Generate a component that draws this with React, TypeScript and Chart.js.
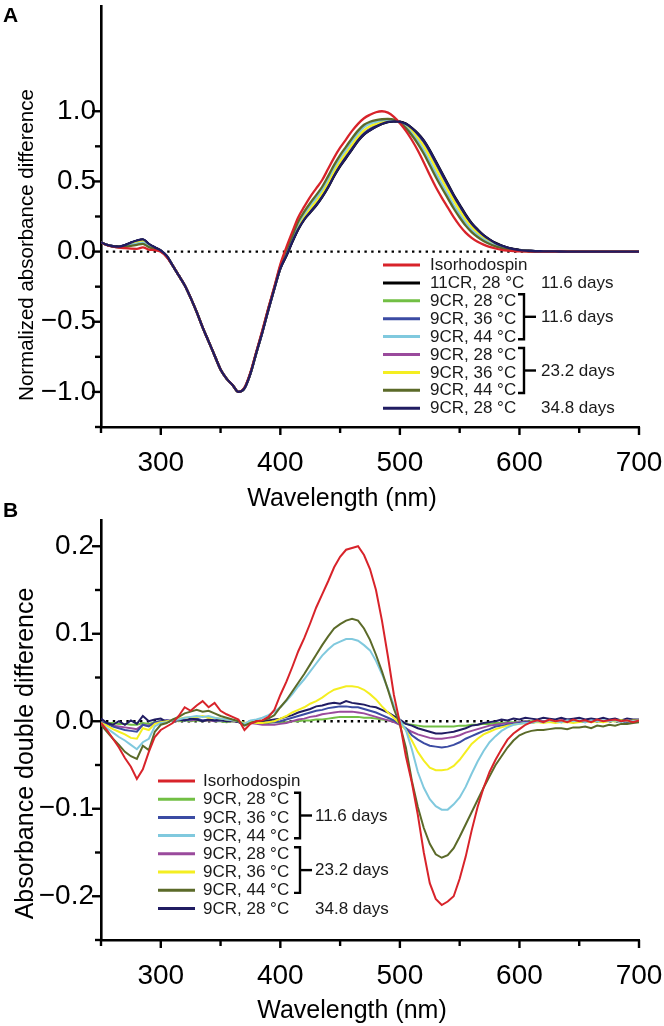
import React, { useEffect, useRef } from 'react';
import { Chart, registerables } from 'chart.js';

Chart.register(...registerables);

const FONT = '"Liberation Sans", Arial, Helvetica, sans-serif';

// ---------------- Panel A data ----------------
const wavelengthA = [
  250, 255, 260, 265, 270, 275, 280, 285, 290, 295,
  300, 305, 310, 315, 320, 325, 330, 335, 340, 345,
  350, 355, 360, 365, 370, 375, 380, 385, 390, 395,
  400, 405, 410, 415, 420, 425, 430, 435, 440, 445,
  450, 455, 460, 465, 470, 475, 480, 485, 490, 495,
  500, 505, 510, 515, 520, 525, 530, 535, 540, 545,
  550, 555, 560, 565, 570, 575, 580, 585, 590, 595,
  600, 610, 620, 630, 640, 650, 660, 670, 680, 690, 700,
];

const isoA = [
  0.064, 0.046, 0.035, 0.028, 0.024, 0.021, 0.020, 0.030, 0.014, 0.010,
  -0.002, -0.04, -0.10, -0.17, -0.24, -0.33, -0.43, -0.54, -0.64, -0.74,
  -0.84, -0.905, -0.95, -1.0, -0.97, -0.86, -0.71, -0.56, -0.40, -0.25,
  -0.09, 0.03, 0.14, 0.245, 0.32, 0.39, 0.45, 0.51, 0.59, 0.67,
  0.74, 0.80, 0.86, 0.91, 0.95, 0.975, 0.993, 1.0, 0.99, 0.96,
  0.915, 0.86, 0.795, 0.72, 0.635, 0.545, 0.46, 0.385, 0.315, 0.245,
  0.185, 0.135, 0.098, 0.07, 0.05, 0.034, 0.022, 0.013, 0.007, 0.003,
  0.001, 0, 0, 0, 0, 0, 0, 0, 0, 0, 0,
];
const cr11_28A = [
  0.066, 0.048, 0.038, 0.035, 0.045, 0.062, 0.077, 0.085, 0.053, 0.029,
  0.007, -0.032, -0.10, -0.17, -0.24, -0.33, -0.43, -0.54, -0.64, -0.74,
  -0.84, -0.905, -0.95, -1.0, -0.975, -0.87, -0.72, -0.575, -0.415, -0.265,
  -0.121, -0.032, 0.068, 0.158, 0.228, 0.278, 0.328, 0.388, 0.457, 0.537,
  0.607, 0.667, 0.727, 0.788, 0.833, 0.864, 0.889, 0.909, 0.923, 0.928,
  0.926, 0.912, 0.882, 0.843, 0.793, 0.724, 0.645, 0.565, 0.485, 0.405,
  0.335, 0.265, 0.204, 0.158, 0.117, 0.087, 0.062, 0.043, 0.029, 0.019,
  0.012, 0.004, 0.002, 0.001, 0, 0, 0, 0, 0, 0, 0,
];
const cr9_28_d1A = [
  0.066, 0.048, 0.038, 0.035, 0.045, 0.062, 0.077, 0.085, 0.053, 0.029,
  0.007, -0.035, -0.10, -0.17, -0.24, -0.33, -0.43, -0.54, -0.64, -0.74,
  -0.84, -0.905, -0.95, -1.0, -0.973, -0.868, -0.718, -0.57, -0.41, -0.26,
  -0.119, -0.028, 0.071, 0.163, 0.233, 0.283, 0.334, 0.394, 0.464, 0.544,
  0.614, 0.674, 0.734, 0.794, 0.838, 0.868, 0.893, 0.913, 0.926, 0.929,
  0.925, 0.909, 0.877, 0.836, 0.785, 0.715, 0.635, 0.555, 0.475, 0.395,
  0.326, 0.257, 0.197, 0.153, 0.113, 0.083, 0.059, 0.041, 0.027, 0.017,
  0.011, 0.004, 0.002, 0.001, 0, 0, 0, 0, 0, 0, 0,
];
const cr9_36_d1A = [
  0.066, 0.048, 0.038, 0.035, 0.045, 0.062, 0.077, 0.085, 0.053, 0.029,
  0.007, -0.035, -0.10, -0.17, -0.24, -0.33, -0.43, -0.54, -0.64, -0.74,
  -0.84, -0.905, -0.95, -1.0, -0.973, -0.868, -0.718, -0.57, -0.41, -0.26,
  -0.118, -0.024, 0.075, 0.167, 0.237, 0.289, 0.34, 0.40, 0.47, 0.55,
  0.62, 0.68, 0.74, 0.80, 0.844, 0.874, 0.898, 0.917, 0.929, 0.93,
  0.924, 0.906, 0.873, 0.83, 0.778, 0.706, 0.626, 0.546, 0.467, 0.388,
  0.318, 0.25, 0.192, 0.148, 0.11, 0.081, 0.057, 0.04, 0.026, 0.017,
  0.010, 0.004, 0.002, 0.001, 0, 0, 0, 0, 0, 0, 0,
];
const cr9_44_d1A = [
  0.065, 0.047, 0.036, 0.032, 0.036, 0.047, 0.057, 0.064, 0.038, 0.022,
  0.004, -0.035, -0.10, -0.17, -0.24, -0.33, -0.43, -0.54, -0.64, -0.74,
  -0.84, -0.905, -0.95, -1.0, -0.973, -0.866, -0.716, -0.567, -0.407, -0.257,
  -0.107, 0.002, 0.097, 0.201, 0.271, 0.330, 0.384, 0.444, 0.519, 0.599,
  0.669, 0.729, 0.789, 0.844, 0.887, 0.912, 0.925, 0.935, 0.94, 0.938,
  0.92, 0.888, 0.842, 0.786, 0.72, 0.641, 0.559, 0.481, 0.406, 0.330,
  0.265, 0.204, 0.154, 0.117, 0.086, 0.062, 0.043, 0.029, 0.019, 0.011,
  0.0065, 0.003, 0.001, 0, 0, 0, 0, 0, 0, 0, 0,
];
const cr9_28_d2A = [
  0.066, 0.048, 0.038, 0.035, 0.045, 0.062, 0.077, 0.085, 0.053, 0.029,
  0.007, -0.035, -0.10, -0.17, -0.24, -0.33, -0.43, -0.54, -0.64, -0.74,
  -0.84, -0.905, -0.95, -1.0, -0.973, -0.868, -0.718, -0.57, -0.41, -0.26,
  -0.119, -0.025, 0.073, 0.165, 0.235, 0.286, 0.336, 0.396, 0.467, 0.547,
  0.617, 0.677, 0.737, 0.796, 0.841, 0.871, 0.895, 0.915, 0.927, 0.929,
  0.924, 0.908, 0.876, 0.834, 0.782, 0.711, 0.631, 0.551, 0.472, 0.392,
  0.323, 0.254, 0.195, 0.151, 0.112, 0.082, 0.058, 0.041, 0.027, 0.017,
  0.011, 0.004, 0.002, 0.001, 0, 0, 0, 0, 0, 0, 0,
];
const cr9_36_d2A = [
  0.065, 0.047, 0.037, 0.033, 0.040, 0.054, 0.066, 0.074, 0.045, 0.025,
  0.005, -0.035, -0.10, -0.17, -0.24, -0.33, -0.43, -0.54, -0.64, -0.74,
  -0.84, -0.905, -0.95, -1.0, -0.973, -0.867, -0.717, -0.568, -0.408, -0.258,
  -0.112, -0.012, 0.085, 0.183, 0.253, 0.308, 0.36, 0.42, 0.493, 0.573,
  0.643, 0.703, 0.763, 0.82, 0.864, 0.893, 0.91, 0.925, 0.932, 0.934,
  0.922, 0.897, 0.859, 0.81, 0.751, 0.676, 0.595, 0.516, 0.439, 0.364,
  0.294, 0.229, 0.175, 0.134, 0.099, 0.073, 0.05, 0.035, 0.023, 0.014,
  0.0085, 0.003, 0.0015, 0, 0, 0, 0, 0, 0, 0, 0,
];
const cr9_44_d2A = [
  0.065, 0.047, 0.036, 0.031, 0.033, 0.040, 0.048, 0.055, 0.032, 0.020,
  0.003, -0.035, -0.10, -0.17, -0.24, -0.33, -0.43, -0.54, -0.64, -0.74,
  -0.84, -0.905, -0.95, -1.0, -0.972, -0.865, -0.715, -0.565, -0.405, -0.255,
  -0.102, 0.012, 0.11, 0.214, 0.284, 0.346, 0.402, 0.462, 0.538, 0.618,
  0.688, 0.748, 0.808, 0.862, 0.904, 0.925, 0.937, 0.943, 0.945, 0.94,
  0.919, 0.88, 0.829, 0.768, 0.697, 0.615, 0.532, 0.455, 0.381, 0.307,
  0.243, 0.185, 0.139, 0.104, 0.076, 0.054, 0.037, 0.025, 0.015, 0.009,
  0.005, 0.002, 0.001, 0, 0, 0, 0, 0, 0, 0, 0,
];
const cr9_28_d3A = [
  0.066, 0.048, 0.038, 0.036, 0.046, 0.064, 0.079, 0.087, 0.055, 0.030,
  0.008, -0.03, -0.10, -0.17, -0.24, -0.33, -0.43, -0.54, -0.64, -0.74,
  -0.84, -0.905, -0.95, -1.0, -0.975, -0.87, -0.72, -0.575, -0.415, -0.265,
  -0.12, -0.03, 0.07, 0.16, 0.23, 0.28, 0.33, 0.39, 0.46, 0.54,
  0.61, 0.67, 0.73, 0.79, 0.835, 0.865, 0.89, 0.91, 0.924, 0.928,
  0.925, 0.91, 0.88, 0.84, 0.79, 0.72, 0.64, 0.56, 0.48, 0.40,
  0.33, 0.26, 0.20, 0.155, 0.115, 0.085, 0.06, 0.042, 0.028, 0.018,
  0.011, 0.004, 0.002, 0.001, 0, 0, 0, 0, 0, 0, 0,
];

// ---------------- Panel B data ----------------
const wavelengthB = [
  250, 255, 260, 265, 270, 275, 280, 285, 290, 295,
  300, 305, 310, 315, 320, 325, 330, 335, 340, 345,
  350, 355, 360, 365, 370, 375, 380, 385, 390, 395,
  400, 405, 410, 415, 420, 425, 430, 435, 440, 445,
  450, 455, 460, 465, 470, 475, 480, 485, 490, 495,
  500, 505, 510, 515, 520, 525, 530, 535, 540, 545,
  550, 555, 560, 565, 570, 575, 580, 585, 590, 595,
  600, 605, 610, 615, 620, 625, 630, 635, 640, 645,
  650, 655, 660, 665, 670, 675, 680, 685, 690, 695, 700,
];

const isoB = [
  -0.002, -0.010, -0.020, -0.030, -0.042, -0.052, -0.066, -0.055, -0.035, -0.018,
  -0.010, -0.006, -0.002, 0.006, 0.016, 0.012, 0.018, 0.023, 0.016, 0.021,
  0.012, 0.008, 0.005, 0.002, -0.010, -0.003, 0.000, 0.001, 0.005, 0.013,
  0.030, 0.045, 0.062, 0.080, 0.095, 0.112, 0.130, 0.145, 0.160, 0.176,
  0.188, 0.196, 0.198, 0.200, 0.190, 0.174, 0.150, 0.115, 0.074, 0.030,
  -0.002, -0.040, -0.070, -0.107, -0.150, -0.185, -0.203, -0.210, -0.206, -0.200,
  -0.180, -0.155, -0.125, -0.098, -0.076, -0.058, -0.044, -0.032, -0.021, -0.014,
  -0.009, -0.004, -0.001, 0.001, -0.001, 0.002, 0.000, 0.001, -0.001, 0.002,
  0.000, 0.001, -0.001, 0.002, 0.000, 0.001, 0.002, 0.000, 0.001, -0.001, 0.001,
];
const cr9_28_d1B = [
  -0.001, -0.002, -0.002, -0.003, -0.003, -0.004, -0.004, -0.002, -0.003, -0.001,
  0.000, 0.000, 0.001, 0.000, 0.001, 0.000, 0.001, 0.000, 0.001, 0.000,
  0.000, -0.001, 0.000, -0.001, -0.002, -0.002, -0.002, -0.002, -0.002, -0.001,
  -0.001, -0.001, 0.000, 0.000, 0.001, 0.001, 0.002, 0.002, 0.003, 0.004,
  0.005, 0.005, 0.005, 0.005, 0.004, 0.004, 0.003, 0.002, 0.001, 0.000,
  -0.001, -0.003, -0.004, -0.005, -0.006, -0.006, -0.006, -0.006, -0.006, -0.006,
  -0.005, -0.005, -0.004, -0.004, -0.003, -0.003, -0.002, -0.002, -0.001, -0.001,
  -0.001, 0.000, 0.000, 0.001, 0.000, 0.000, 0.001, 0.000, 0.000, 0.001,
  0.000, 0.000, 0.001, 0.000, 0.000, 0.001, 0.000, 0.000, 0.001, 0.000, 0.000,
];
const cr9_36_d1B = [
  -0.001, -0.003, -0.006, -0.008, -0.010, -0.011, -0.012, -0.004, -0.006, -0.001,
  0.000, 0.001, 0.000, 0.002, 0.001, 0.002, 0.003, 0.001, 0.002, 0.001,
  0.001, 0.000, 0.001, -0.001, -0.003, -0.001, -0.002, -0.002, -0.001, -0.001,
  0.000, 0.002, 0.004, 0.006, 0.008, 0.010, 0.012, 0.013, 0.015, 0.016,
  0.017, 0.017, 0.016, 0.016, 0.014, 0.012, 0.010, 0.007, 0.004, 0.001,
  -0.003, -0.008, -0.016, -0.021, -0.025, -0.028, -0.029, -0.030, -0.029, -0.027,
  -0.024, -0.020, -0.017, -0.014, -0.011, -0.009, -0.006, -0.005, -0.004, -0.003,
  -0.002, -0.001, -0.002, 0.000, -0.001, 0.000, 0.001, -0.001, 0.000, 0.001,
  0.000, -0.001, 0.001, 0.000, 0.000, 0.001, 0.000, 0.001, -0.001, 0.001, 0.000,
];
const cr9_44_d1B = [
  -0.003, -0.008, -0.013, -0.018, -0.022, -0.027, -0.032, -0.024, -0.020, -0.006,
  -0.002, -0.001, 0.001, 0.002, 0.004, 0.005, 0.006, 0.005, 0.006, 0.004,
  0.003, 0.002, 0.001, 0.000, -0.003, 0.001, 0.002, 0.004, 0.007, 0.011,
  0.016, 0.023, 0.031, 0.040, 0.048, 0.057, 0.066, 0.075, 0.082, 0.088,
  0.091, 0.094, 0.094, 0.092, 0.087, 0.081, 0.069, 0.054, 0.037, 0.018,
  0.001, -0.010, -0.032, -0.058, -0.076, -0.089, -0.097, -0.101, -0.101, -0.095,
  -0.087, -0.075, -0.060, -0.046, -0.034, -0.024, -0.017, -0.011, -0.007, -0.004,
  -0.003, -0.002, -0.002, 0.000, -0.001, 0.001, 0.000, -0.001, 0.001, 0.000,
  0.001, -0.001, 0.001, 0.000, 0.001, 0.000, 0.001, -0.001, 0.001, 0.000, 0.001,
];
const cr9_28_d2B = [
  -0.001, -0.003, -0.005, -0.006, -0.007, -0.008, -0.009, -0.004, -0.005, -0.002,
  0.000, 0.001, 0.000, 0.001, 0.002, 0.001, 0.002, 0.001, 0.001, 0.000,
  0.001, 0.000, 0.000, -0.001, -0.002, -0.002, -0.003, -0.004, -0.004, -0.004,
  -0.003, -0.002, 0.000, 0.002, 0.003, 0.005, 0.006, 0.008, 0.009, 0.010,
  0.011, 0.011, 0.011, 0.010, 0.009, 0.007, 0.005, 0.003, 0.001, -0.001,
  -0.004, -0.008, -0.012, -0.015, -0.017, -0.019, -0.020, -0.020, -0.019, -0.018,
  -0.016, -0.013, -0.011, -0.009, -0.007, -0.005, -0.004, -0.003, -0.002, -0.002,
  -0.001, 0.000, -0.001, 0.001, 0.000, 0.001, 0.000, 0.001, 0.002, 0.001,
  0.000, 0.001, 0.002, 0.001, 0.000, 0.001, 0.002, 0.001, 0.000, 0.001, 0.001,
];
const cr9_36_d2B = [
  -0.002, -0.005, -0.009, -0.012, -0.015, -0.019, -0.020, -0.008, -0.010, -0.003,
  -0.001, 0.000, 0.001, 0.003, 0.004, 0.005, 0.005, 0.006, 0.004, 0.004,
  0.003, 0.002, 0.001, 0.000, -0.002, -0.001, -0.002, -0.002, -0.001, 0.000,
  0.003, 0.006, 0.010, 0.013, 0.016, 0.020, 0.023, 0.027, 0.032, 0.036,
  0.038, 0.040, 0.040, 0.039, 0.036, 0.031, 0.025, 0.017, 0.010, 0.004,
  -0.003, -0.010, -0.022, -0.035, -0.045, -0.053, -0.056, -0.056, -0.055, -0.051,
  -0.044, -0.035, -0.026, -0.020, -0.015, -0.012, -0.009, -0.007, -0.005, -0.004,
  -0.003, -0.002, -0.002, -0.001, -0.002, -0.001, -0.002, -0.001, -0.001, -0.002,
  -0.001, 0.000, -0.001, 0.000, -0.001, 0.000, 0.000, 0.001, 0.000, 0.001, 0.001,
];
const cr9_44_d2B = [
  -0.004, -0.012, -0.020, -0.027, -0.035, -0.040, -0.043, -0.028, -0.033, -0.012,
  -0.004, -0.002, 0.002, 0.005, 0.009, 0.011, 0.013, 0.011, 0.012, 0.009,
  0.006, 0.004, 0.002, 0.000, -0.005, -0.002, 0.000, 0.001, 0.003, 0.007,
  0.016, 0.024, 0.034, 0.044, 0.054, 0.065, 0.076, 0.087, 0.097, 0.106,
  0.111, 0.115, 0.117, 0.115, 0.106, 0.093, 0.076, 0.057, 0.036, 0.014,
  -0.004, -0.030, -0.068, -0.098, -0.122, -0.140, -0.152, -0.156, -0.153, -0.145,
  -0.132, -0.118, -0.104, -0.090, -0.076, -0.063, -0.050, -0.040, -0.030, -0.022,
  -0.016, -0.013, -0.011, -0.010, -0.010, -0.009, -0.008, -0.008, -0.009, -0.007,
  -0.007, -0.006, -0.008, -0.005, -0.006, -0.004, -0.005, -0.003, -0.003, -0.002, -0.001,
];
const cr9_28_d3B = [
  0.003, -0.002, -0.004, 0.000, -0.004, 0.001, -0.003, 0.006, 0.000, 0.002,
  0.003, -0.001, 0.001, 0.002, 0.001, 0.003, 0.002, 0.000, 0.002, 0.001,
  0.002, 0.000, 0.001, -0.001, -0.004, 0.000, -0.001, 0.000, 0.001, 0.002,
  0.003, 0.005, 0.007, 0.010, 0.012, 0.014, 0.017, 0.018, 0.020, 0.021,
  0.020, 0.023, 0.021, 0.020, 0.019, 0.017, 0.016, 0.013, 0.010, 0.006,
  0.002, -0.003, -0.005, -0.008, -0.010, -0.012, -0.014, -0.014, -0.013, -0.012,
  -0.010, -0.008, -0.005, -0.004, -0.002, -0.001, 0.000, 0.002, 0.001, 0.003,
  0.002, 0.004, 0.003, 0.002, 0.004, 0.003, 0.002, 0.004, 0.002, 0.003,
  0.004, 0.002, 0.003, 0.002, 0.004, 0.002, 0.003, 0.001, 0.003, 0.002, 0.002,
];

// ---------------- labels, ticks, colours ----------------
const xMajorTicks = [300, 400, 500, 600, 700];
const xMinorTicks = [250, 350, 450, 550, 650];
const yMajorTicksA = [-1.0, -0.5, 0, 0.5, 1.0];
const yMinorTicksA = [-1.25, -0.75, -0.25, 0.25, 0.75];
const yMajorTicksB = [-0.2, -0.1, 0, 0.1, 0.2];
const yMinorTicksB = [-0.25, -0.15, -0.05, 0.05, 0.15];

const legendLabelsA = ['Isorhodospin', '11CR, 28 °C', '9CR, 28 °C', '9CR, 36 °C', '9CR, 44 °C', '9CR, 28 °C', '9CR, 36 °C', '9CR, 44 °C', '9CR, 28 °C'];
const legendLabelsB = ['Isorhodospin', '9CR, 28 °C', '9CR, 36 °C', '9CR, 44 °C', '9CR, 28 °C', '9CR, 36 °C', '9CR, 44 °C', '9CR, 28 °C'];

const colorIso = '#d8232a';
const color11CR = '#000000';
const color28d1 = '#72bf44';
const color36d1 = '#3b4ba3';
const color44d1 = '#80c9de';
const color28d2 = '#9a4a9c';
const color36d2 = '#f4ee21';
const color44d2 = '#5b6a29';
const color28d3 = '#201c62';

const seriesA = [
  { label: legendLabelsA[0], data: isoA, color: colorIso, order: 1 },
  { label: legendLabelsA[1], data: cr11_28A, color: color11CR, order: 5 },
  { label: legendLabelsA[2], data: cr9_28_d1A, color: color28d1, order: 8 },
  { label: legendLabelsA[3], data: cr9_36_d1A, color: color36d1, order: 6 },
  { label: legendLabelsA[4], data: cr9_44_d1A, color: color44d1, order: 3 },
  { label: legendLabelsA[5], data: cr9_28_d2A, color: color28d2, order: 7 },
  { label: legendLabelsA[6], data: cr9_36_d2A, color: color36d2, order: 4 },
  { label: legendLabelsA[7], data: cr9_44_d2A, color: color44d2, order: 2 },
  { label: legendLabelsA[8], data: cr9_28_d3A, color: color28d3, order: 0 },
];
const seriesB = [
  { label: legendLabelsB[0], data: isoB, color: colorIso, order: 0 },
  { label: legendLabelsB[1], data: cr9_28_d1B, color: color28d1, order: 7 },
  { label: legendLabelsB[2], data: cr9_36_d1B, color: color36d1, order: 5 },
  { label: legendLabelsB[3], data: cr9_44_d1B, color: color44d1, order: 2 },
  { label: legendLabelsB[4], data: cr9_28_d2B, color: color28d2, order: 6 },
  { label: legendLabelsB[5], data: cr9_36_d2B, color: color36d2, order: 3 },
  { label: legendLabelsB[6], data: cr9_44_d2B, color: color44d2, order: 1 },
  { label: legendLabelsB[7], data: cr9_28_d3B, color: color28d3, order: 4 },
];

const daysA = [
  { text: '11.6 days', rows: [1, 1] },
  { text: '11.6 days', rows: [2, 4], bracket: true },
  { text: '23.2 days', rows: [5, 7], bracket: true },
  { text: '34.8 days', rows: [8, 8] },
];
const daysB = [
  { text: '11.6 days', rows: [1, 3], bracket: true },
  { text: '23.2 days', rows: [4, 6], bracket: true },
  { text: '34.8 days', rows: [7, 7] },
];

const fmtTick = (v: number) => {
  const s = Math.abs(v).toFixed(1);
  return v < -1e-9 ? '\u2212' + s : s;
};

type PanelSpec = {
  wl: number[];
  series: { label: string; data: number[]; color: string; order: number }[];
  smooth: boolean;
  lineWidth: number;
  yMin: number; yMax: number;
  yMajor: number[]; yMinor: number[];
  yLabelPad: number;
  height: number; areaTop: number; areaBottom: number;
  panelLabel: string; panelLabelY: number;
  yTitle: string; yTitleSize: number; yTitleX: number; yTitleY: number;
  xTitle: string; xTitleX: number; xTitleY: number;
  legend: { rowY0: number; rowH: number; lineX1: number; lineX2: number; textX: number; daysX: number; bracketX: number };
  days: { text: string; rows: number[]; bracket?: boolean }[];
};

const AREA_LEFT = 101;
const AREA_RIGHT = 639;
const W = 664;

function decorPlugin(p: PanelSpec) {
  return {
    id: 'decor',
    beforeDatasetsDraw(chart: any) {
      const { ctx, chartArea } = chart;
      const y0 = chart.scales.y.getPixelForValue(0);
      ctx.save();
      ctx.strokeStyle = '#000';
      ctx.lineWidth = 2.4;
      ctx.setLineDash([2.4, 4.4]);
      ctx.beginPath();
      ctx.moveTo(chartArea.left + 5, y0);
      ctx.lineTo(chartArea.right, y0);
      ctx.stroke();
      ctx.restore();
    },
    afterDraw(chart: any) {
      const { ctx, chartArea: a } = chart;
      const xs = chart.scales.x;
      const ys = chart.scales.y;
      ctx.save();
      ctx.strokeStyle = '#000';
      ctx.lineWidth = 2.4;
      const line = (x1: number, y1: number, x2: number, y2: number) => {
        ctx.beginPath(); ctx.moveTo(x1, y1); ctx.lineTo(x2, y2); ctx.stroke();
      };
      p.yMajor.forEach((v) => { const py = ys.getPixelForValue(v); line(a.left - 9, py, a.left, py); });
      p.yMinor.forEach((v) => { const py = ys.getPixelForValue(v); line(a.left - 6, py, a.left, py); });
      xMajorTicks.forEach((v) => { const px = xs.getPixelForValue(v); line(px, a.bottom, px, a.bottom + 8); });
      xMinorTicks.forEach((v) => { const px = xs.getPixelForValue(v); line(px, a.bottom, px, a.bottom + 6); });

      ctx.fillStyle = '#000';
      ctx.font = `bold 21px ${FONT}`;
      ctx.textAlign = 'left';
      ctx.textBaseline = 'alphabetic';
      ctx.fillText(p.panelLabel, 3, p.panelLabelY);

      ctx.save();
      ctx.font = `${p.yTitleSize}px ${FONT}`;
      ctx.translate(p.yTitleX, p.yTitleY);
      ctx.rotate(-Math.PI / 2);
      ctx.textAlign = 'center';
      ctx.textBaseline = 'alphabetic';
      ctx.fillText(p.yTitle, 0, 0);
      ctx.restore();

      ctx.font = `25px ${FONT}`;
      ctx.textAlign = 'center';
      ctx.textBaseline = 'alphabetic';
      ctx.fillText(p.xTitle, p.xTitleX, p.xTitleY);

      const L = p.legend;
      const rowY = (r: number) => L.rowY0 + r * L.rowH;
      ctx.font = `17px ${FONT}`;
      ctx.textBaseline = 'middle';
      ctx.textAlign = 'left';
      p.series.forEach((s, i) => {
        const y = rowY(i);
        ctx.strokeStyle = s.color;
        ctx.lineWidth = 3;
        line(L.lineX1, y, L.lineX2, y);
        ctx.fillStyle = '#1a1a1a';
        ctx.fillText(s.label, L.textX, y + 0.5);
      });
      ctx.strokeStyle = '#000';
      ctx.lineWidth = 2.4;
      p.days.forEach((d) => {
        let yc: number;
        if (d.bracket) {
          const top = rowY(d.rows[0]) - 6.5;
          const bot = rowY(d.rows[1]) + 2.7;
          yc = (top + bot) / 2;
          ctx.beginPath();
          ctx.moveTo(L.bracketX - 6, top);
          ctx.lineTo(L.bracketX, top);
          ctx.lineTo(L.bracketX, bot);
          ctx.lineTo(L.bracketX - 6, bot);
          ctx.stroke();
          line(L.bracketX, yc, L.bracketX + 12, yc);
        } else {
          yc = rowY(d.rows[0]);
        }
        ctx.fillStyle = '#1a1a1a';
        ctx.fillText(d.text, L.daysX, yc + 0.5);
      });
      ctx.restore();
    },
  };
}

function buildConfig(p: PanelSpec): any {
  return {
    type: 'line',
    data: {
      datasets: p.series.map((s) => ({
        label: s.label,
        data: p.wl.map((x, i) => ({ x, y: s.data[i] })),
        borderColor: s.color,
        backgroundColor: s.color,
        borderWidth: p.lineWidth,
        pointRadius: 0,
        fill: false,
        order: s.order,
        tension: p.smooth ? 0.4 : 0,
        cubicInterpolationMode: p.smooth ? 'monotone' : 'default',
      })),
    },
    options: {
      responsive: false,
      animation: false,
      devicePixelRatio: 1,
      layout: { padding: { left: 0, top: p.areaTop, right: W - AREA_RIGHT, bottom: 0 } },
      plugins: { legend: { display: false }, tooltip: { enabled: false }, title: { display: false } },
      scales: {
        x: {
          type: 'linear',
          min: 250,
          max: 700,
          afterBuildTicks: (s: any) => { s.ticks = xMajorTicks.map((v) => ({ value: v })); },
          afterFit: (s: any) => {
            s.height = p.height - p.areaBottom;
            s.paddingLeft = 0; s.paddingRight = 0; s.paddingTop = 0; s.paddingBottom = 0;
          },
          grid: { display: false, drawTicks: false },
          border: { display: true, color: '#000', width: 2.6 },
          ticks: {
            padding: 19, color: '#000', autoSkip: false, maxRotation: 0,
            font: { size: 28, family: FONT },
            callback: (v: number) => String(v),
          },
        },
        y: {
          type: 'linear',
          min: p.yMin,
          max: p.yMax,
          afterBuildTicks: (s: any) => { s.ticks = p.yMajor.map((v) => ({ value: v })); },
          afterFit: (s: any) => {
            s.width = AREA_LEFT;
            s.paddingLeft = 0; s.paddingRight = 0; s.paddingTop = 0; s.paddingBottom = 0;
          },
          grid: { display: false, drawTicks: false },
          border: { display: true, color: '#000', width: 2.6 },
          ticks: {
            padding: p.yLabelPad, color: '#000', autoSkip: false,
            font: { size: 28, family: FONT },
            callback: (v: number) => fmtTick(v),
          },
        },
      },
    },
    plugins: [decorPlugin(p)],
  };
}

const panelA: PanelSpec = {
  wl: wavelengthA,
  series: seriesA,
  smooth: true,
  lineWidth: 2.3,
  yMin: -1.25, yMax: 1.75,
  yMajor: yMajorTicksA, yMinor: yMinorTicksA,
  yLabelPad: 5,
  height: 512, areaTop: 6, areaBottom: 427,
  panelLabel: 'A', panelLabelY: 22,
  yTitle: 'Normalized absorbance difference', yTitleSize: 20.5, yTitleX: 33, yTitleY: 245,
  xTitle: 'Wavelength (nm)', xTitleX: 342, xTitleY: 506,
  legend: { rowY0: 265, rowH: 17.9, lineX1: 383, lineX2: 420, textX: 430, daysX: 541, bracketX: 524 },
  days: daysA,
};

const panelB: PanelSpec = {
  wl: wavelengthB,
  series: seriesB,
  smooth: false,
  lineWidth: 2,
  yMin: -0.25, yMax: 0.23,
  yMajor: yMajorTicksB, yMinor: yMinorTicksB,
  yLabelPad: 7,
  height: 546, areaTop: 40, areaBottom: 460,
  panelLabel: 'B', panelLabelY: 37,
  yTitle: 'Absorbance double difference', yTitleSize: 25, yTitleX: 33, yTitleY: 273.5,
  xTitle: 'Wavelength (nm)', xTitleX: 352, xTitleY: 538,
  legend: { rowY0: 301, rowH: 18.2, lineX1: 158, lineX2: 195, textX: 203, daysX: 315, bracketX: 300 },
  days: daysB,
};

function PanelChart({ spec, top }: { spec: PanelSpec; top: number }) {
  const ref = useRef<HTMLCanvasElement | null>(null);
  useEffect(() => {
    if (!ref.current) return;
    const chart = new Chart(ref.current, buildConfig(spec));
    return () => chart.destroy();
  }, [spec]);
  return (
    <div style={{ position: 'absolute', left: 0, top, width: W, height: spec.height }}>
      <canvas ref={ref} width={W} height={spec.height} style={{ display: 'block', width: W, height: spec.height }} />
    </div>
  );
}

export default function App() {
  return (
    <div style={{ position: 'absolute', left: 0, top: 0, width: W, height: 1026, background: '#fff' }}>
      <PanelChart spec={panelA} top={0} />
      <PanelChart spec={panelB} top={480} />
    </div>
  );
}
